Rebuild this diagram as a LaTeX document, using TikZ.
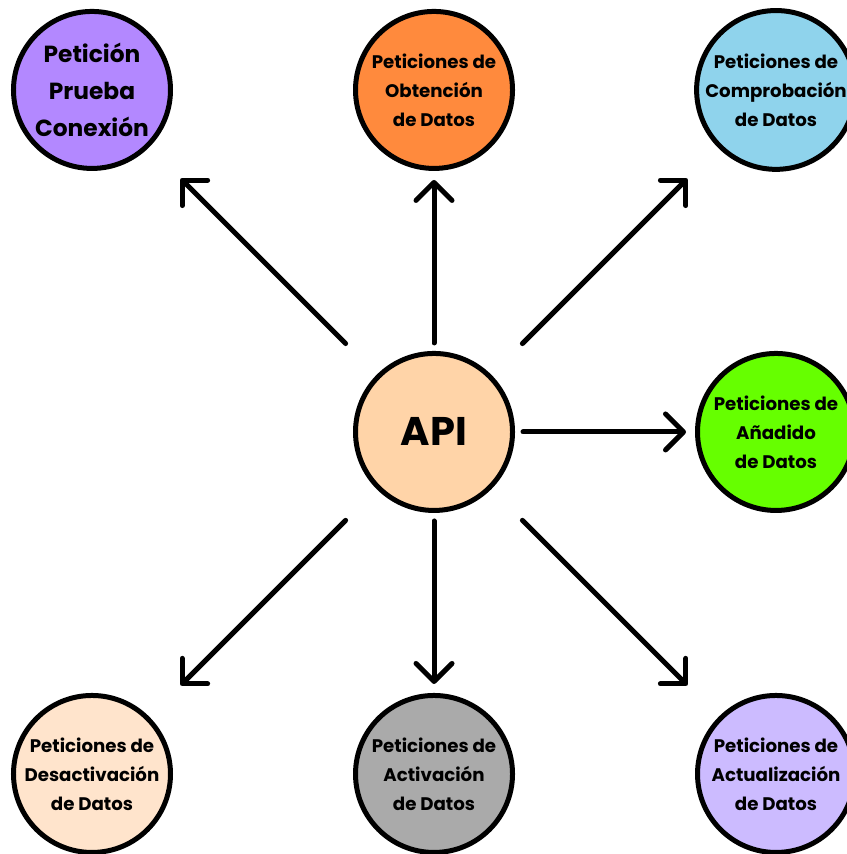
\documentclass[tikz,border=0pt]{standalone}
\usepackage{fontspec}
\setmainfont{Poppins}
\usetikzlibrary{arrows.meta}
\definecolor{apicol}{HTML}{FFD4A8}
\definecolor{pruebacol}{HTML}{B388FF}
\definecolor{obtencol}{HTML}{FF8A3D}
\definecolor{comprocol}{HTML}{8FD3EC}
\definecolor{anadcol}{HTML}{66FF00}
\definecolor{desaccol}{HTML}{FFE4CC}
\definecolor{activcol}{HTML}{AAAAAA}
\definecolor{actuacol}{HTML}{CCBBFF}
\begin{document}
\begin{tikzpicture}[x=342pt, y=342pt,
    bubble/.style={circle, draw=black, line width=5pt, minimum size=157pt, inner sep=0pt,
        align=center, font=\bfseries\fontsize{18.2}{29}\selectfont},
    flecha/.style={line width=5pt, line cap=round,
        -{Straight Barb[length=18pt, width=36pt, round]}}]
    \useasboundingbox (-1.269,-1.234) rectangle (1.205,1.263);
    \node[bubble, fill=apicol, font=\bfseries\fontsize{40}{40}\selectfont] (api) at (0,0) {API};
    \node[bubble, fill=pruebacol, font=\bfseries\fontsize{23.3}{37}\selectfont] (prueba) at (-1,1) {Petición\\Prueba\\Conexión};
    \node[bubble, fill=obtencol] (obtencion) at (0,1) {Peticiones de\\Obtención\\de Datos};
    \node[bubble, fill=comprocol] (comprobacion) at (1,1) {Peticiones de\\Comprobación\\de Datos};
    \node[bubble, fill=anadcol] (anadido) at (1,0) {Peticiones de\\Añadido\\de Datos};
    \node[bubble, fill=desaccol] (desactivacion) at (-1,-1) {Peticiones de\\Desactivación\\de Datos};
    \node[bubble, fill=activcol] (activacion) at (0,-1) {Peticiones de\\Activación\\de Datos};
    \node[bubble, fill=actuacol] (actualizacion) at (1,-1) {Peticiones de\\Actualización\\de Datos};
    % straight ones
    \draw[flecha, shorten <=89pt, shorten >=90pt] (api.center) -- (obtencion.center);
    \draw[flecha, shorten <=89pt, shorten >=90pt] (api.center) -- (anadido.center);
    \draw[flecha, shorten <=89pt, shorten >=90pt] (api.center) -- (activacion.center);
    % diagonal ones
    \draw[flecha, shorten <=125pt, shorten >=125pt] (api.center) -- (prueba.center);
    \draw[flecha, shorten <=125pt, shorten >=125pt] (api.center) -- (comprobacion.center);
    \draw[flecha, shorten <=125pt, shorten >=125pt] (api.center) -- (desactivacion.center);
    \draw[flecha, shorten <=125pt, shorten >=125pt] (api.center) -- (actualizacion.center);
\end{tikzpicture}
\end{document}
